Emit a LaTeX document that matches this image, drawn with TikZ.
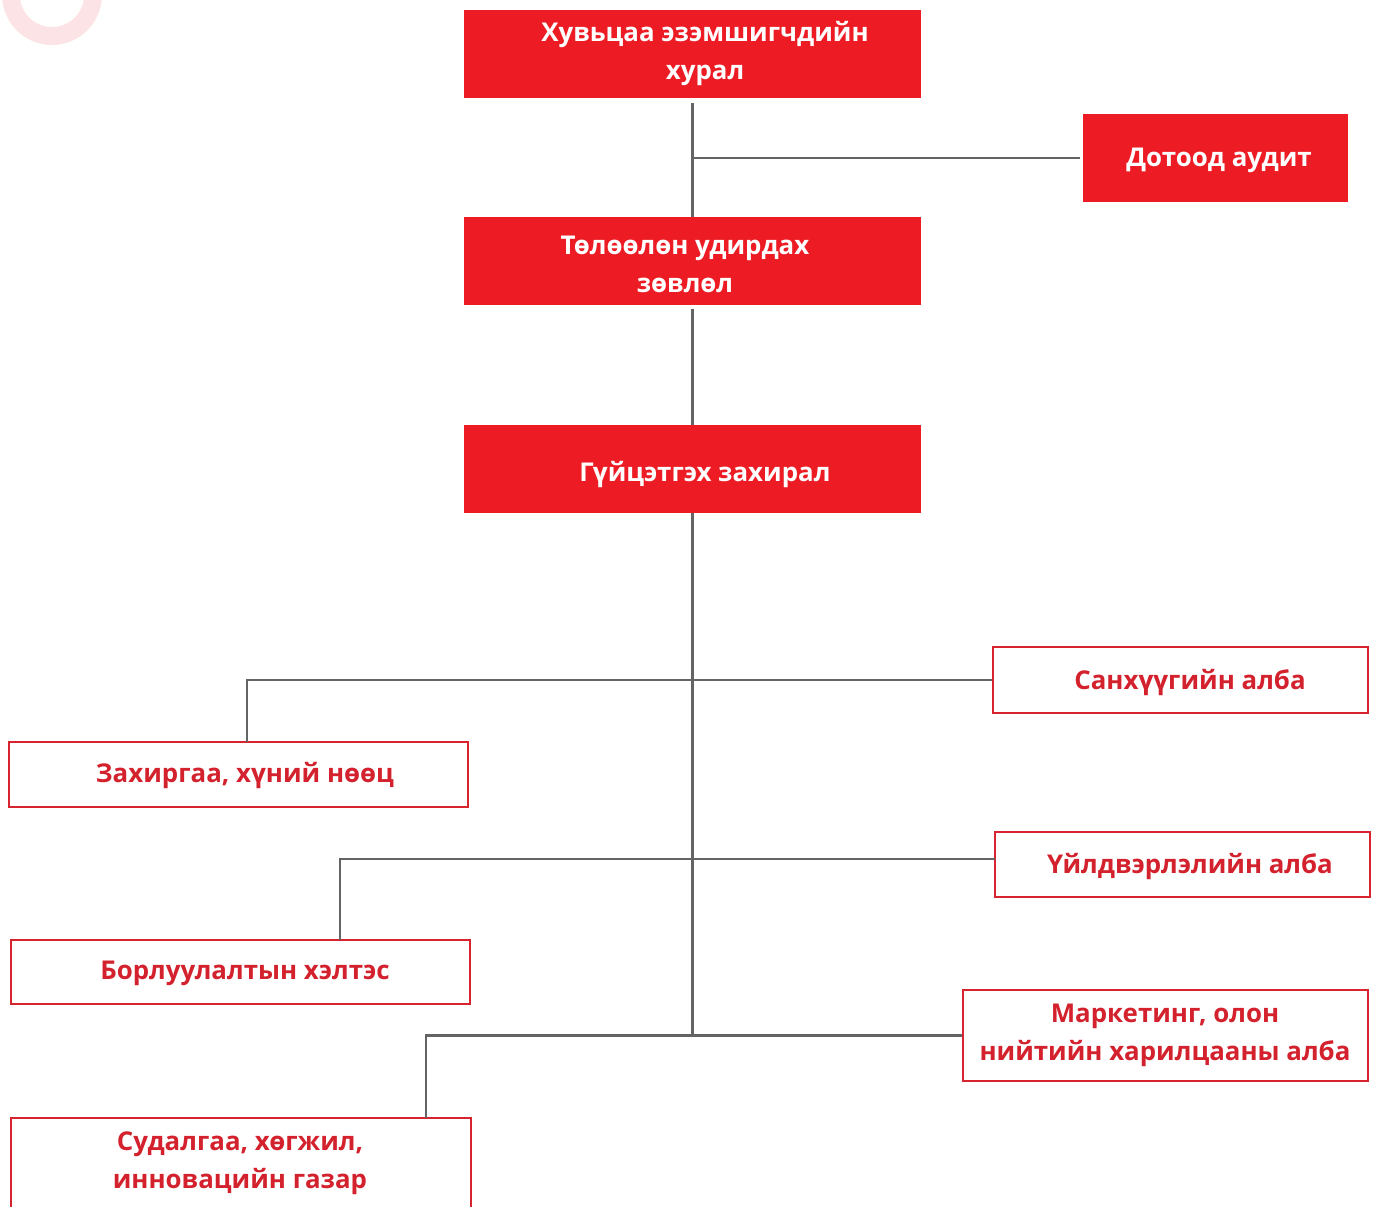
\documentclass[tikz,border=0pt]{standalone}
\usepackage{fontspec}
\setmainfont{Open Sans}
\definecolor{boxred}{HTML}{ED1C24}
\definecolor{linered}{HTML}{D7242F}
\definecolor{txtred}{HTML}{D3222D}
\definecolor{conn}{HTML}{646464}
\definecolor{ring}{HTML}{FCE4E6}
\begin{document}
\begin{tikzpicture}[x=0.75pt,y=-0.75pt,
  fillbox/.style={fill=boxred,draw=none,inner sep=0pt},
  linebox/.style={draw=linered,line width=2.2pt,fill=white,inner sep=0pt},
  wtxt/.style={text=white,font=\bfseries\fontsize{19.4}{28.5}\selectfont,align=center,inner sep=0pt},
  rtxt/.style={text=txtred,font=\bfseries\fontsize{19.4}{28.5}\selectfont,align=center,inner sep=0pt},
  connector/.style={draw=conn,line width=2.2pt}]
\useasboundingbox (0,0) rectangle (1376,1206);
\draw[ring,line width=13.5pt] (52,-5) circle[radius=41];
% boxes
\node[fillbox,minimum width=342.75pt,minimum height=66pt] (b1) at (692.5,54) {};
\node[fillbox,minimum width=198.75pt,minimum height=66pt] (b2) at (1215.5,158) {};
\node[fillbox,minimum width=342.75pt,minimum height=66pt] (b3) at (692.5,261) {};
\node[fillbox,minimum width=342.75pt,minimum height=66pt] (b4) at (692.5,469) {};
\node[linebox,minimum width=281.25pt,minimum height=49.5pt] (b5) at (1180.5,680) {};
\node[linebox,minimum width=344.25pt,minimum height=48.75pt] (b6) at (238.5,774.5) {};
\node[linebox,minimum width=281.25pt,minimum height=48.75pt] (b7) at (1182.5,864.5) {};
\node[linebox,minimum width=344.25pt,minimum height=48pt] (b8) at (240.5,972) {};
\node[linebox,minimum width=303.75pt,minimum height=68.25pt] (b9) at (1165.5,1035.5) {};
\node[linebox,minimum width=345pt,minimum height=76.5pt] (b10) at (241,1169) {};
% texts
\node[wtxt] (t1) at (705,54) {Хувьцаа эзэмшигчдийн\\хурал};
\node[wtxt] (t2) at (1219,160) {Дотоод аудит};
\node[wtxt] (t3) at (685,264) {Төлөөлөн удирдах\\зөвлөл};
\node[wtxt] (t4) at (705,475) {Гүйцэтгэх захирал};
\node[rtxt] (t5) at (1190,682) {Санхүүгийн алба};
\node[rtxt] (t6) at (245,775) {Захиргаа, хүний нөөц};
\node[rtxt] (t7) at (1190,866) {Үйлдвэрлэлийн алба};
\node[rtxt] (t8) at (245,973) {Борлуулалтын хэлтэс};
\node[rtxt] (t9) at (1165,1035) {Маркетинг, олон\\нийтийн харилцааны алба};
\node[rtxt] (t10) at (240,1163) {Судалгаа, хөгжил,\\инновацийн газар};
% junctions
\coordinate (j1) at (692.5,158);
\coordinate (j4) at (692.5,1035);
\coordinate (k6) at (247,742);
\coordinate (k8) at (340,940);
\coordinate (k10) at (426,1118);
\coordinate (w7) at (995,859);
% connectors
\draw[connector] ([yshift=-3.75pt]b1.south) -- (b3.north);
\draw[connector] (j1) -- ([xshift=-2.25pt]b2.west);
\draw[connector] ([yshift=-3pt]b3.south) -- (b4.north);
\draw[connector] (b4.south) -- (j4);
\draw[connector] (b5.west) -| (k6);
\draw[connector] (w7) -| (k8);
\draw[connector] (b9.west) -| (k10);
\end{tikzpicture}
\end{document}
